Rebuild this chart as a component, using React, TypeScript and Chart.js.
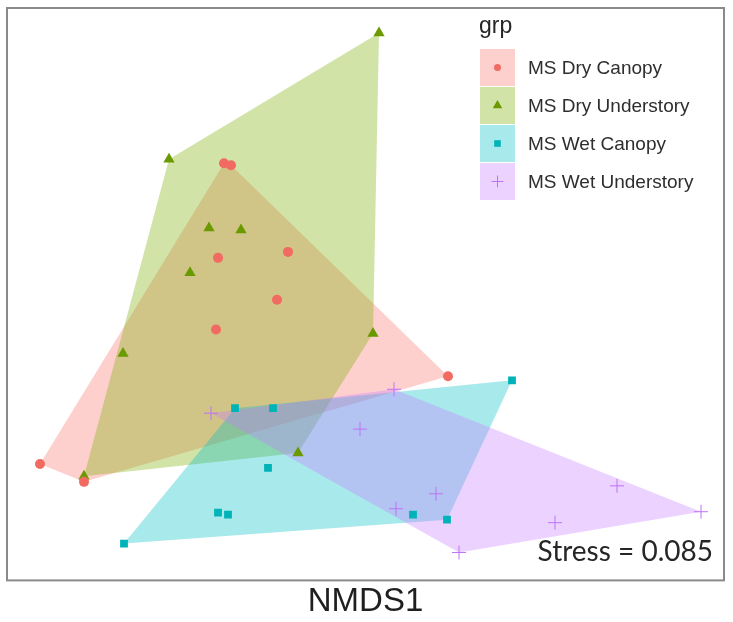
import React, { useEffect, useRef } from "react";
import { Chart, registerables } from "chart.js";

Chart.register(...registerables);

// ---- data (NMDS scores) ----
const groups = ["MS Dry Canopy", "MS Dry Understory", "MS Wet Canopy", "MS Wet Understory"];
const groupColors = ["#F8766D", "#7CAE00", "#00BFC4", "#C77CFF"];
const pointColors = ["#F26B63", "#6A9A00", "#00B3B8", "#BF72F7"];
const pointStyles = ["circle", "triangle", "rect", "cross"];

const dryCanopyX = [-0.283, -0.269, -0.155, -0.295, -0.177, -0.299, 0.165, -0.651, -0.563];
const dryCanopyY = [0.263, 0.259, 0.085, 0.073, -0.011, -0.071, -0.165, -0.341, -0.377];

const dryUnderX = [0.027, -0.393, -0.313, -0.249, -0.351, 0.015, -0.485, -0.135, -0.563];
const dryUnderY = [0.525, 0.271, 0.133, 0.129, 0.043, -0.079, -0.119, -0.319, -0.366];

const wetCanopyX = [-0.261, -0.185, -0.195, -0.295, -0.275, -0.483, 0.095, 0.163, 0.293];
const wetCanopyY = [-0.229, -0.229, -0.349, -0.439, -0.443, -0.501, -0.443, -0.453, -0.173];

const wetUnderX = [-0.309, 0.057, -0.011, 0.141, 0.061, 0.187, 0.503, 0.379, 0.671];
const wetUnderY = [-0.239, -0.191, -0.271, -0.401, -0.431, -0.519, -0.385, -0.459, -0.437];

const seriesX = [dryCanopyX, dryUnderX, wetCanopyX, wetUnderX];
const seriesY = [dryCanopyY, dryUnderY, wetCanopyY, wetUnderY];

const xTitle = "NMDS1";
const legendTitle = "grp";
const stressLabel = "Stress = 0.085";

const xMin = -0.715;
const xMax = 0.715;
const yMin = -0.575;
const yMax = 0.575;

type P = { x: number; y: number };

function convexHull(pts: P[]): P[] {
  const p = [...pts].sort((a, b) => (a.x === b.x ? a.y - b.y : a.x - b.x));
  const cross = (o: P, a: P, b: P) => (a.x - o.x) * (b.y - o.y) - (a.y - o.y) * (b.x - o.x);
  const lower: P[] = [];
  for (const pt of p) {
    while (lower.length >= 2 && cross(lower[lower.length - 2], lower[lower.length - 1], pt) <= 0) lower.pop();
    lower.push(pt);
  }
  const upper: P[] = [];
  for (let i = p.length - 1; i >= 0; i--) {
    const pt = p[i];
    while (upper.length >= 2 && cross(upper[upper.length - 2], upper[upper.length - 1], pt) <= 0) upper.pop();
    upper.push(pt);
  }
  upper.pop();
  lower.pop();
  return lower.concat(upper);
}

function hexA(hex: string, a: number) {
  const r = parseInt(hex.slice(1, 3), 16);
  const g = parseInt(hex.slice(3, 5), 16);
  const b = parseInt(hex.slice(5, 7), 16);
  return `rgba(${r},${g},${b},${a})`;
}

const FILL_ALPHA = 0.34;
const pointRadii = [5, 6.5, 5.5, 7];

function drawMarker(ctx: CanvasRenderingContext2D, i: number, x: number, y: number, scale: number) {
  ctx.save();
  ctx.fillStyle = pointColors[i];
  ctx.strokeStyle = pointColors[i];
  const r = pointRadii[i] * scale;
  ctx.beginPath();
  if (i === 0) {
    ctx.arc(x, y, r, 0, Math.PI * 2);
    ctx.fill();
  } else if (i === 1) {
    ctx.moveTo(x, y - r);
    ctx.lineTo(x + r * 0.866, y + r * 0.5);
    ctx.lineTo(x - r * 0.866, y + r * 0.5);
    ctx.closePath();
    ctx.fill();
  } else if (i === 2) {
    const s = r * Math.SQRT1_2;
    ctx.rect(x - s, y - s, 2 * s, 2 * s);
    ctx.fill();
  } else {
    ctx.lineWidth = 1;
    ctx.moveTo(x - r, y);
    ctx.lineTo(x + r, y);
    ctx.moveTo(x, y - r);
    ctx.lineTo(x, y + r);
    ctx.stroke();
  }
  ctx.restore();
}

const decorPlugin = {
  id: "decor",
  afterDraw(chart: any) {
    const ctx: CanvasRenderingContext2D = chart.ctx;
    const a = chart.chartArea;
    ctx.save();
    // panel border
    ctx.strokeStyle = "#8a8a8a";
    ctx.lineWidth = 2;
    ctx.strokeRect(a.left - 1, a.top, a.right - a.left + 2, a.bottom - a.top);

    // stress annotation
    ctx.fillStyle = "#262626";
    ctx.font = "28px Lato, 'Open Sans', sans-serif";
    ctx.textAlign = "right";
    ctx.textBaseline = "alphabetic";
    ctx.fillText(stressLabel, a.right - 10, 561);

    // legend
    const lx = 480;
    ctx.textAlign = "left";
    ctx.fillStyle = "#262626";
    ctx.font = "23px 'Liberation Sans', Arial, sans-serif";
    ctx.fillText(legendTitle, lx - 1, 33);
    const keyW = 35;
    const keyH = 37;
    const top0 = 49;
    ctx.font = "19px 'Liberation Sans', Arial, sans-serif";
    ctx.textBaseline = "middle";
    groups.forEach((g, i) => {
      const ky = top0 + i * (keyH + 1);
      ctx.fillStyle = hexA(groupColors[i], FILL_ALPHA);
      ctx.fillRect(lx, ky, keyW, keyH);
      drawMarker(ctx, i, lx + keyW / 2, ky + keyH / 2, i === 0 ? 0.7 : 0.85);
      ctx.fillStyle = "#2e2e2e";
      ctx.fillText(g, lx + 48, ky + keyH / 2 + 1);
    });
    ctx.restore();
  },
};

export default function App() {
  const ref = useRef<HTMLCanvasElement | null>(null);

  useEffect(() => {
    if (!ref.current) return;
    Chart.defaults.font.family = "'Liberation Sans', Arial, sans-serif";

    const hullSets = groups.map((g, i) => {
      const pts = seriesX[i].map((x, k) => ({ x, y: seriesY[i][k] }));
      const hull = convexHull(pts);
      const closed = hull.concat([hull[0]]);
      return {
        label: g + " hull",
        data: closed,
        showLine: true,
        fill: "shape",
        backgroundColor: hexA(groupColors[i], FILL_ALPHA),
        borderColor: "rgba(0,0,0,0)",
        borderWidth: 0,
        pointRadius: 0,
        tension: 0,
        order: 10 - i,
      };
    });

    // red points drawn on top (lowest order)
    const pointOrders = [0, 1, 2, 3];
    const pointSets = groups.map((g, i) => ({
      label: g,
      data: seriesX[i].map((x, k) => ({ x, y: seriesY[i][k] })),
      showLine: false,
      pointStyle: pointStyles[i],
      pointRadius: pointRadii[i],
      pointBackgroundColor: pointColors[i],
      pointBorderColor: pointColors[i],
      pointBorderWidth: i === 3 ? 1 : 0,
      order: pointOrders[i],
    }));

    const chart = new Chart(ref.current, {
      type: "scatter",
      data: { datasets: [...hullSets, ...pointSets] as any },
      options: {
        animation: false,
        responsive: false,
        devicePixelRatio: 1,
        layout: { padding: { left: 8, right: 10, top: 5, bottom: 0 } },
        plugins: {
          legend: { display: false },
          tooltip: { enabled: false },
        },
        scales: {
          x: {
            type: "linear",
            min: xMin,
            max: xMax,
            display: true,
            grid: { display: false, drawTicks: false },
            border: { display: false },
            ticks: { display: false },
            title: {
              display: true,
              text: xTitle,
              color: "#1f1f1f",
              font: { size: 33, family: "'Liberation Sans', Arial, sans-serif" },
              padding: { top: 2, bottom: 0 },
            },
          },
          y: {
            type: "linear",
            min: yMin,
            max: yMax,
            display: false,
          },
        },
      },
      plugins: [decorPlugin],
    });
    return () => chart.destroy();
  }, []);

  return (
    <div style={{ position: "absolute", left: 0, top: 0, width: 733, height: 622, background: "#fff" }}>
      <canvas ref={ref} width={733} height={622} style={{ width: 733, height: 622, display: "block" }} />
    </div>
  );
}
